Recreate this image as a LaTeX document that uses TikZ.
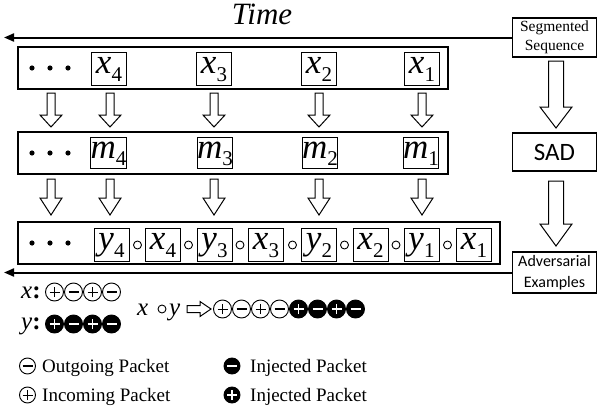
\documentclass[tikz,border=0pt]{standalone}
\usepackage{fontspec}
\setmainfont{Liberation Serif}
\newfontfamily\calib{Carlito}
\usetikzlibrary{arrows.meta}
\newcommand\myvar[2]{{\fontsize{35}{35}\selectfont\itshape #1}\raisebox{-7.5pt}{\fontsize{21}{21}\selectfont #2}}
\newcommand\barrow[6]{\draw[blockarrow] (#1-#5,#2) -- (#1-#5,#3) -- (#1-#6,#3) -- (#1,#4) -- (#1+#6,#3) -- (#1+#5,#3) -- (#1+#5,#2) -- cycle;}
\begin{document}
\begin{tikzpicture}[x=1pt,y=-1pt,
  rowbox/.style={draw, line width=1.3pt, minimum height=42pt, inner sep=0pt},
  cell/.style={draw, line width=1pt, minimum width=35pt, minimum height=33pt, inner sep=0pt, text height=17pt, text depth=7pt},
  blockarrow/.style={draw, line width=1pt, fill=white, line join=miter},
  timeline/.style={line width=2pt, -{Triangle[length=10pt,width=8pt]}},
  sidebox/.style={draw, line width=1.1pt, minimum width=84pt, inner sep=0pt, align=center},
  opcirc/.style={line width=0.9pt},
  pk/.style={circle, draw, line width=0.9pt, minimum size=18pt, inner sep=0pt},
  pkop/.style={pk, path picture={\draw[line width=1pt] ([xshift=-5pt]path picture bounding box.center) -- ([xshift=5pt]path picture bounding box.center) ([yshift=-5pt]path picture bounding box.center) -- ([yshift=5pt]path picture bounding box.center);}},
  pkom/.style={pk, path picture={\draw[line width=1.6pt] ([xshift=-5pt]path picture bounding box.center) -- ([xshift=5pt]path picture bounding box.center);}},
  pkfp/.style={pk, fill=black, path picture={\draw[white, line width=1.6pt] ([xshift=-5pt]path picture bounding box.center) -- ([xshift=5pt]path picture bounding box.center) ([yshift=-5pt]path picture bounding box.center) -- ([yshift=5pt]path picture bounding box.center);}},
  pkfm/.style={pk, fill=black, path picture={\draw[white, line width=1.6pt] ([xshift=-5pt]path picture bounding box.center) -- ([xshift=5pt]path picture bounding box.center);}},
  legend/.style={anchor=base west, inner sep=0pt, font=\fontsize{19}{19}\selectfont}
]
\useasboundingbox (0,0) rectangle (598,410);

% Time
\node[anchor=base, inner sep=0pt, font=\fontsize{31}{31}\selectfont\itshape] (time) at (262,24) {Time};

% right column
\node[sidebox, minimum height=39pt, font=\fontsize{15.5}{19}\selectfont] (seg) at (554.5,37.5) {Segmented\\Sequence};
\node[sidebox, minimum height=38pt, line width=1.2pt, font=\calib\fontsize{25}{25}\selectfont] (sad) at (554.5,152) {SAD};
\node[sidebox, minimum height=41pt, font=\calib\fontsize{16}{20.5}\selectfont] (adv) at (554.5,272.5) {Adversarial\\Examples};
\barrow{556}{61}{107}{128}{7.5}{16}
\barrow{556}{181}{224}{246}{7.5}{16}

% time lines
\coordinate (tl1) at (4,37.5);
\coordinate (tl2) at (4,272.5);
\draw[timeline] (seg.west) -- (tl1);
\draw[timeline] (adv.west) -- (tl2);

% rows
\node[rowbox, minimum width=430pt] (r1) at (233,68) {};
\node[rowbox, minimum width=430pt] (r2) at (233,153) {};
\node[rowbox, minimum width=482pt] (r3) at (259,243) {};

\foreach \yy in {68,153,243} {
  \fill (32,\yy) circle (2.6);
  \fill (50,\yy) circle (2.6);
  \fill (68,\yy) circle (2.6);
}

% row 1
\node[cell] (x4a) at (109,68.5) {\myvar{x}{4}};
\node[cell] (x3a) at (214,68.5) {\myvar{x}{3}};
\node[cell] (x2a) at (319,68.5) {\myvar{x}{2}};
\node[cell] (x1a) at (422,68.5) {\myvar{x}{1}};

% row 2
\node[cell, minimum height=31pt] (m4) at (108.5,153) {\myvar{m}{4}};
\node[cell, minimum height=31pt] (m3) at (215,153) {\myvar{m}{3}};
\node[cell, minimum height=31pt] (m2) at (320,153) {\myvar{m}{2}};
\node[cell, minimum height=31pt] (m1) at (421,153) {\myvar{m}{1}};

% row 3
\node[cell] (y4) at (111.5,244.5) {\myvar{y}{4}};
\node[cell] (x4b) at (163,244.5) {\myvar{x}{4}};
\node[cell] (y3) at (214.5,244.5) {\myvar{y}{3}};
\node[cell] (x3b) at (266,244.5) {\myvar{x}{3}};
\node[cell] (y2) at (319,244.5) {\myvar{y}{2}};
\node[cell] (x2b) at (370.5,244.5) {\myvar{x}{2}};
\node[cell] (y1) at (421.5,244.5) {\myvar{y}{1}};
\node[cell] (x1b) at (474,244.5) {\myvar{x}{1}};
\foreach \cx in {137.5,188.5,240,292.5,344.5,396,447.5} {
  \draw[opcirc] (\cx,245) circle (4);
}

% small block arrows
\foreach \ax in {51,110,214,319,422} {
  \barrow{\ax}{93}{115}{127}{4}{11}
  \barrow{\ax}{179}{198}{215}{4}{11}
}

% legend: x and y sequences
\node[anchor=base west, inner sep=0pt, font=\fontsize{25}{25}\selectfont] (xl) at (21,298) {\textit{x}\textbf{:}};
\node[anchor=base west, inner sep=0pt, font=\fontsize{25}{25}\selectfont] (yl) at (21,329) {\textit{y}\textbf{:}};
\node[pkop] (xs1) at (54.5,292) {};
\node[pkom] (xs2) at (73.5,292) {};
\node[pkop] (xs3) at (92.5,292) {};
\node[pkom] (xs4) at (111.5,292) {};
\node[pkfp] (ys1) at (54.5,324) {};
\node[pkfm] (ys2) at (73.5,324) {};
\node[pkfp] (ys3) at (92.5,324) {};
\node[pkfm] (ys4) at (111.5,324) {};

% x o y =>
\node[anchor=base west, inner sep=0pt, font=\fontsize{25}{25}\selectfont\itshape] (xo) at (137,315) {x};
\draw[opcirc] (162,309) circle (4);
\node[anchor=base west, inner sep=0pt, font=\fontsize{25}{25}\selectfont\itshape] (yo) at (169,315) {y};
\draw[blockarrow, line width=1pt] (187,305.5) -- (200,305.5) -- (200,301.5) -- (211,309) -- (200,316.5) -- (200,312.5) -- (187,312.5) -- cycle;
\node[pkop] (s1) at (222.5,309) {};
\node[pkom] (s2) at (241.5,309) {};
\node[pkop] (s3) at (260.5,309) {};
\node[pkom] (s4) at (279.5,309) {};
\node[pkfp] (s5) at (298.5,309) {};
\node[pkfm] (s6) at (317.5,309) {};
\node[pkfp] (s7) at (336.5,309) {};
\node[pkfm] (s8) at (355.5,309) {};

% legend
\node[pkom, minimum size=16pt] (l1) at (27.5,366) {};
\node[legend] (l1t) at (42,372) {Outgoing Packet};
\node[pkop, minimum size=16pt] (l2) at (27.5,395) {};
\node[legend] (l2t) at (42,401) {Incoming Packet};
\node[pkfm, minimum size=16pt] (l3) at (232,366) {};
\node[legend] (l3t) at (250,372) {Injected Packet};
\node[pkfp, minimum size=16pt] (l4) at (232,395) {};
\node[legend] (l4t) at (250,401) {Injected Packet};
\end{tikzpicture}
\end{document}
